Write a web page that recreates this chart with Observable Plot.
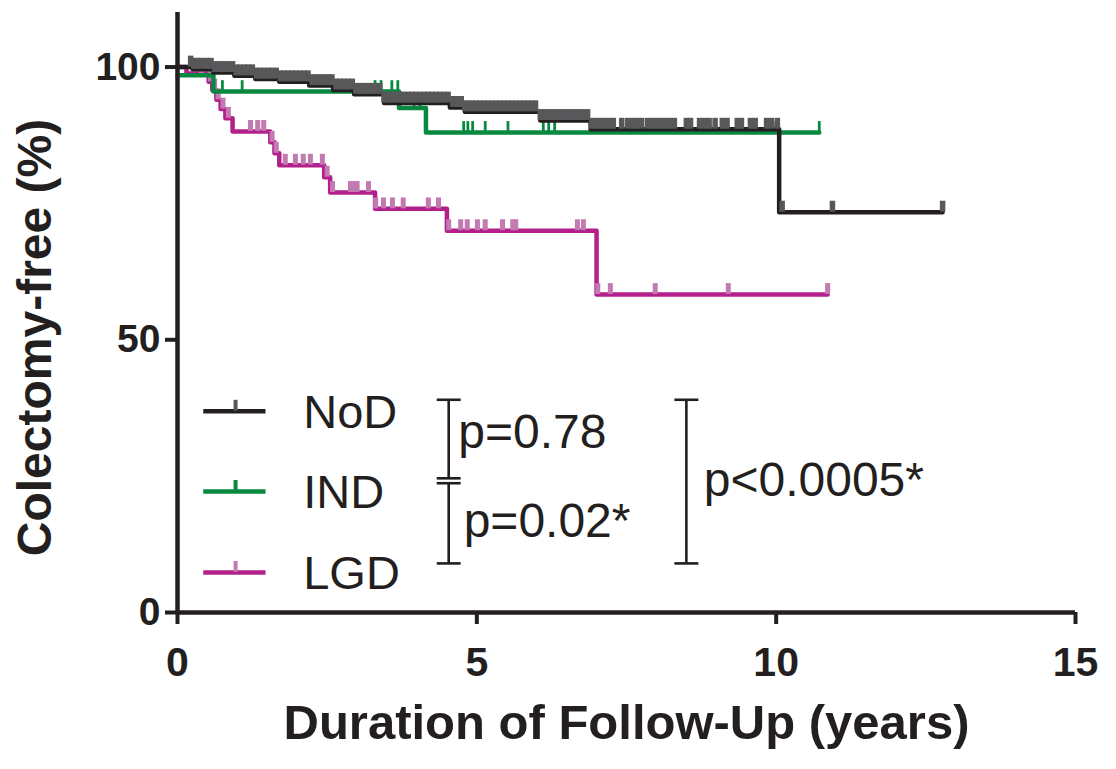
<!DOCTYPE html>
<html><head><meta charset="utf-8">
<script src="https://cdn.jsdelivr.net/npm/d3@7"></script>
<script src="https://cdn.jsdelivr.net/npm/@observablehq/plot@0.6"></script>
<style>
body{margin:0;background:#fff}
#chart svg g[aria-label$="tick label"] text{font-weight:bold}
</style>
</head><body><div id="chart"></div>
<script>
// ---- data ----
const groups = ["NoD", "IND", "LGD"];
const lineColors = ["#231f20", "#08893f", "#b3208c"];
const censorColors = ["#58585a", "#08893f", "#c27ab0"];

// Kaplan-Meier steps: [time (years), colectomy-free (%)]
const nodSteps = [[0,100],[0.25,99.6],[0.6,99.0],[0.95,98.4],[1.3,97.8],[1.7,97.3],[2.2,96.6],[2.6,95.8],[2.95,95.0],[3.45,93.4],[4.55,92.6],[4.8,91.8],[6.06,90.2],[6.9,88.6],[10.05,73.4],[12.78,73.4]];
const indSteps = [[0,98.5],[0.6,95.5],[3.7,92.5],[4.15,88.0],[10.72,88.0]];
const lgdSteps = [[0,100],[0.15,98.8],[0.52,97.3],[0.58,95.8],[0.65,94.0],[0.72,92.3],[0.8,90.6],[0.92,88.2],[1.55,86.2],[1.62,84.2],[1.7,82.0],[2.45,79.8],[2.55,77.0],[3.3,74.0],[4.5,70.0],[7.0,58.3],[10.86,58.3]];

// censored observations (years)
const nodCensor = [0.22,0.27,0.33,0.38,0.45,0.5,0.56,0.62,0.68,0.74,0.8,0.86,0.92,0.98,1.05,1.12,1.18,1.25,1.32,1.38,1.45,1.52,1.58,1.65,1.72,1.78,1.85,1.92,1.98,2.05,2.12,2.18,2.25,2.32,2.38,2.45,2.52,2.58,2.65,2.72,2.78,2.85,2.92,2.98,3.05,3.12,3.18,3.25,3.32,3.38,3.45,3.52,3.58,3.65,3.72,3.78,3.85,3.92,3.98,4.05,4.12,4.18,4.25,4.32,4.38,4.45,4.52,4.6,4.67,4.74,4.8,4.86,4.92,4.98,5.05,5.12,5.18,5.25,5.32,5.38,5.45,5.52,5.58,5.65,5.72,5.78,5.85,5.92,5.98,6.06,6.12,6.18,6.25,6.32,6.38,6.45,6.52,6.58,6.65,6.72,6.78,6.85,6.92,7.0,7.07,7.15,7.22,7.28,7.42,7.52,7.6,7.68,7.75,7.85,7.92,8.0,8.07,8.15,8.22,8.3,8.5,8.57,8.72,8.8,8.88,8.98,9.1,9.18,9.35,9.42,9.57,9.65,9.84,9.92,10.02,10.1,10.94,12.78];
const indCensor = [0.75,1.08,3.3,3.4,3.58,3.68,3.95,4.05,4.78,4.85,4.93,5.14,5.52,6.11,6.2,6.3,7.4,9.57,9.95,10.72];
const lgdCensor = [0.4,0.55,0.62,0.68,0.76,0.85,1.22,1.34,1.44,1.58,1.65,1.8,1.97,2.1,2.22,2.42,2.5,2.59,2.89,2.94,3.0,3.19,3.31,3.44,3.59,3.77,4.19,4.36,4.53,4.73,4.84,5.01,5.14,5.43,5.6,5.65,6.68,6.78,7.02,7.23,7.98,9.2,10.86];

// tick labels
const xTicks = [0, 5, 10, 15];
const yTicks = [0, 50, 100];
const xLabel = "Duration of Follow-Up (years)";
const yLabel = "Colectomy-free (%)";

// annotations (legend + comparisons), in data units
const legendY = [36.9, 22.2, 7.35];
const comparisons = ["p=0.78", "p=0.02*", "p<0.0005*"];
const compX = [4.69, 4.78, 8.79];
const compY = [33.3, 17.0, 24.6];
const bracketX = [4.53, 4.53, 8.5];
const bracketTop = [39.0, 23.7, 39.0];
const bracketBottom = [24.6, 9.0, 9.0];

// ---- build tables ----
const stepsAll = [nodSteps, indSteps, lgdSteps];
const censAll = [nodCensor, indCensor, lgdCensor];
function valueAt(steps, t) { let v = steps[0][1]; for (const [x, y] of steps) if (x <= t + 1e-9) v = y; return v; }
const curves = stepsAll.map((s, i) => s.map(([t, v]) => ({g: groups[i], t, v})));
const censors = censAll.map((c, i) => c.map(t => ({g: groups[i], t, v: valueAt(stepsAll[i], t)})));
const tickH = 2.0;
const censorW = [5.5, 2.8, 5];
const legend = groups.map((g, i) => ({g, y: legendY[i], i}));
const brackets = bracketX.map((x, i) => ({x, y1: bracketTop[i], y2: bracketBottom[i]}));
const caps = brackets.flatMap(b => [{x: b.x, y: b.y1}, {x: b.x, y: b.y2}]);
const comps = comparisons.map((t, i) => ({t, x: compX[i], y: compY[i]}));
const capW = 0.2;

const marks = [];
// curves drawn LGD, IND, NoD (NoD on top)
for (const i of [2, 1, 0]) {
  marks.push(Plot.line(curves[i], {x: "t", y: "v", curve: "step-after", stroke: lineColors[i], strokeWidth: 4.5}));
  marks.push(Plot.ruleX(censors[i], {x: "t", y1: "v", y2: d => d.v + tickH, stroke: censorColors[i], strokeWidth: censorW[i]}));
}
// legend
marks.push(Plot.link(legend, {x1: 0.43, x2: 1.47, y1: "y", y2: "y", stroke: d => lineColors[d.i], strokeWidth: 4.5}));
marks.push(Plot.ruleX(legend, {x: 0.97, y1: "y", y2: d => d.y + tickH, stroke: d => censorColors[d.i], strokeWidth: 4}));
marks.push(Plot.text(legend, {x: 2.1, y: "y", text: "g", textAnchor: "start", fontSize: 47, fill: "#231f20", dy: 2}));
// brackets
marks.push(Plot.link(brackets, {x1: "x", x2: "x", y1: "y1", y2: "y2", stroke: "#231f20", strokeWidth: 2.6}));
marks.push(Plot.link(caps, {x1: d => d.x - capW, x2: d => d.x + capW, y1: "y", y2: "y", stroke: "#231f20", strokeWidth: 2.6}));
marks.push(Plot.text(comps, {x: "x", y: "y", text: "t", textAnchor: "start", fontSize: 48, fill: "#231f20", dy: 2}));
// axes
marks.push(Plot.axisX({ticks: xTicks, tickSize: 12, tickPadding: 22, fontSize: 41, strokeWidth: 4, label: null, fill: "#231f20", stroke: "#231f20"}));
marks.push(Plot.axisY({ticks: yTicks, tickSize: 12, tickPadding: 5, fontSize: 39, strokeWidth: 4, label: null, fill: "#231f20", stroke: "#231f20"}));
marks.push(Plot.ruleX([0], {stroke: "#231f20", strokeWidth: 4.5}));
marks.push(Plot.ruleY([0], {stroke: "#231f20", strokeWidth: 4.5}));
marks.push(Plot.text([xLabel], {text: d => d, frameAnchor: "bottom", textAnchor: "middle", dy: 126, fontSize: 49, fontWeight: "bold", fill: "#231f20"}));
marks.push(Plot.text([yLabel], {text: d => d, frameAnchor: "left", textAnchor: "middle", dx: -142, dy: 25, rotate: -90, fontSize: 48, fontWeight: "bold", fill: "#231f20"}));

const chart = Plot.plot({
  width: 1116, height: 769,
  marginLeft: 177, marginRight: 41, marginTop: 12, marginBottom: 157,
  x: {domain: [0, 15]},
  y: {domain: [0, 110]},
  style: {fontFamily: "'Liberation Sans', Arial, sans-serif", background: "#fff", overflow: "visible", color: "#231f20"},
  marks
});
document.getElementById("chart").appendChild(chart);
</script>
</body></html>
